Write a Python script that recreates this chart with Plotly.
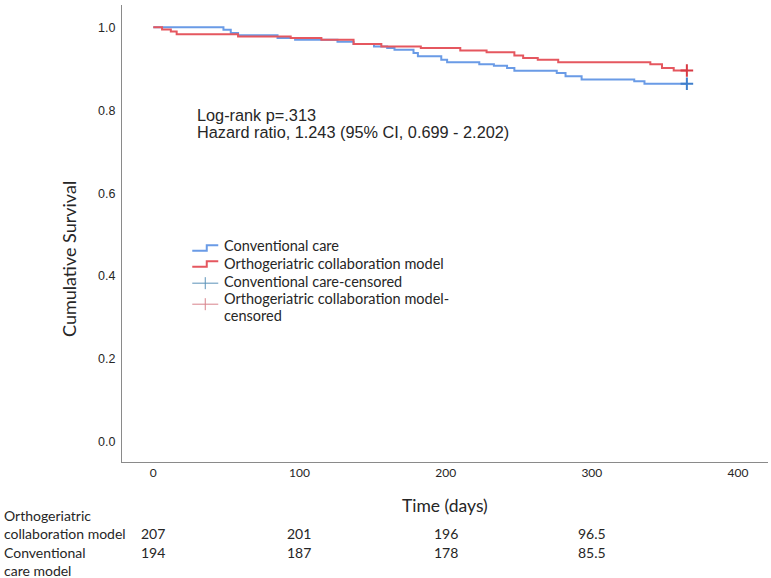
import plotly.graph_objects as go

# ---------------- data ----------------
conv_time = [0, 48, 53, 58, 85, 97, 126, 137, 151, 160, 165, 178, 181, 197, 201,
             223, 233, 242, 247, 276, 282, 293, 329, 336, 365]
conv_surv = [1.0, 0.994, 0.986, 0.981, 0.974, 0.970, 0.965, 0.960, 0.954, 0.950,
             0.946, 0.938, 0.930, 0.922, 0.916, 0.911, 0.907, 0.902, 0.895, 0.890,
             0.882, 0.874, 0.870, 0.864, 0.864]
ortho_time = [0, 6, 12, 16, 58, 94, 115, 137, 156, 183, 210, 228, 247, 253, 263,
              277, 340, 348, 356, 365]
ortho_surv = [1.0, 0.995, 0.990, 0.983, 0.978, 0.974, 0.970, 0.960, 0.954, 0.950,
              0.944, 0.940, 0.932, 0.926, 0.922, 0.916, 0.911, 0.902, 0.896, 0.896]
conv_censor_time = [365]
conv_censor_surv = [0.864]
ortho_censor_time = [365]
ortho_censor_surv = [0.896]

x_ticks = [0, 100, 200, 300, 400]
y_ticks = [0.0, 0.2, 0.4, 0.6, 0.8, 1.0]

risk_times = [0, 100, 200, 300]
risk_ortho = ["207", "201", "196", "96.5"]
risk_conv = ["194", "187", "178", "85.5"]

legend_labels = ["Conventional care", "Orthogeriatric collaboration model",
                 "Conventional care-censored",
                 "Orthogeriatric collaboration model-", "censored"]

# ---------------- layout geometry ----------------
W, H = 771, 578
ML, MR, MT, MB = 121.7, 3, 5, 116.3
PW, PH = W - ML - MR, H - MT - MB


def px(x):
    return (x - ML) / PW


def py(y):
    return (H - MB - y) / PH


BLUE = "#6a9be6"
RED = "#e5575f"
BLUE_C = "#3f7fcc"
RED_C = "#d83a44"
TXT = "#262626"

fig = go.Figure()
fig.add_trace(go.Scatter(x=conv_time, y=conv_surv, mode="lines",
                         line=dict(color=BLUE, width=2, shape="hv"), showlegend=False))
fig.add_trace(go.Scatter(x=ortho_time, y=ortho_surv, mode="lines",
                         line=dict(color=RED, width=2, shape="hv"), showlegend=False))
fig.add_trace(go.Scatter(x=conv_censor_time, y=conv_censor_surv, mode="markers",
                         marker=dict(symbol="cross-thin", size=9,
                                     line=dict(color=BLUE_C, width=2)),
                         showlegend=False))
fig.add_trace(go.Scatter(x=ortho_censor_time, y=ortho_censor_surv, mode="markers",
                         marker=dict(symbol="cross-thin", size=9,
                                     line=dict(color=RED_C, width=2)),
                         showlegend=False))

annotations = []
shapes = []

# statistics text
STAT_FONT = dict(family="Liberation Sans, Arial", size=16.3, color=TXT)
annotations.append(dict(xref="paper", yref="paper", x=px(195), y=py(115),
                        xanchor="left", yanchor="middle", showarrow=False,
                        align="left", text="Log-rank p=.313", font=STAT_FONT))
annotations.append(dict(xref="paper", yref="paper", x=px(195), y=py(132),
                        xanchor="left", yanchor="middle", showarrow=False,
                        align="left",
                        text="Hazard ratio, 1.243 (95% CI, 0.699 - 2.202)",
                        font=STAT_FONT))

# manual legend
LEG_FONT = dict(family="Lato, Open Sans", size=14.5, color=TXT)
lx0, lxs, lx1 = 192, 206.5, 218
for (ylo, yhi, col) in [(250.5, 245, BLUE), (266.5, 261, RED)]:
    shapes.append(dict(type="path", xref="paper", yref="paper",
                       path=f"M {px(lx0)} {py(ylo)} L {px(lxs)} {py(ylo)} L {px(lxs)} {py(yhi)} L {px(lx1)} {py(yhi)}",
                       line=dict(color=col, width=2)))
for (yc, col) in [(283, "#5b92b8"), (304, "#d8838b")]:
    shapes.append(dict(type="line", xref="paper", yref="paper",
                       x0=px(lx0), x1=px(lx1), y0=py(yc), y1=py(yc),
                       line=dict(color=col, width=1)))
    shapes.append(dict(type="line", xref="paper", yref="paper",
                       x0=px(205), x1=px(205), y0=py(yc - 6), y1=py(yc + 6),
                       line=dict(color=col, width=1)))
for lab, yc in zip(legend_labels, [245, 263, 281, 298, 315.5]):
    annotations.append(dict(xref="paper", yref="paper", x=px(223), y=py(yc),
                            xanchor="left", yanchor="middle", showarrow=False,
                            align="left", text=lab, font=LEG_FONT, borderpad=0))

# axis titles
annotations.append(dict(xref="paper", yref="paper", x=px(68.5), y=py(259),
                        xanchor="center", yanchor="middle", showarrow=False,
                        textangle=-90, text="Cumulative Survival",
                        font=dict(family="Lato, Open Sans", size=18, color=TXT)))
annotations.append(dict(xref="paper", yref="paper", x=px(445), y=py(505),
                        xanchor="center", yanchor="middle", showarrow=False,
                        text="Time (days)",
                        font=dict(family="Lato, Open Sans", size=17.5, color=TXT)))

# number-at-risk table
TAB_FONT = dict(family="Lato, Open Sans", size=14, color=TXT)
for lab, yc in [("Orthogeriatric", 515), ("collaboration model", 533),
                ("Conventional", 552.5), ("care model", 570)]:
    annotations.append(dict(xref="paper", yref="paper", x=px(3), y=py(yc),
                            xanchor="left", yanchor="middle", showarrow=False,
                            text=lab, font=TAB_FONT, borderpad=0))
for t, a, b in zip(risk_times, risk_ortho, risk_conv):
    annotations.append(dict(xref="x", yref="paper", x=t, y=py(533),
                            xanchor="center", yanchor="middle", showarrow=False,
                            text=a, font=TAB_FONT, borderpad=0))
    annotations.append(dict(xref="x", yref="paper", x=t, y=py(552.5),
                            xanchor="center", yanchor="middle", showarrow=False,
                            text=b, font=TAB_FONT, borderpad=0))

fig.update_layout(
    width=W, height=H,
    margin=dict(l=ML, r=MR, t=MT, b=MB, pad=0),
    paper_bgcolor="white", plot_bgcolor="white",
    showlegend=False,
    annotations=annotations, shapes=shapes,
    xaxis=dict(range=[-21.4, 420.5], tickvals=x_ticks,
               ticktext=[str(v) for v in x_ticks],
               showgrid=False, zeroline=False, showline=True,
               linecolor="#8a8a8a", linewidth=1, ticks="",
               tickfont=dict(family="Lato, Open Sans", size=12, color=TXT)),
    yaxis=dict(range=[-0.0483, 1.0538], tickvals=y_ticks,
               ticktext=[f"{v:.1f}" for v in y_ticks],
               showgrid=False, zeroline=False, showline=True,
               linecolor="#8a8a8a", linewidth=1, ticks="",
               ticklabelstandoff=3,
               tickfont=dict(family="Liberation Sans, Arial", size=12.5, color=TXT)),
)

fig.write_html("out.html", config={"displayModeBar": False},
               post_script="document.body.style.margin='0px';")
